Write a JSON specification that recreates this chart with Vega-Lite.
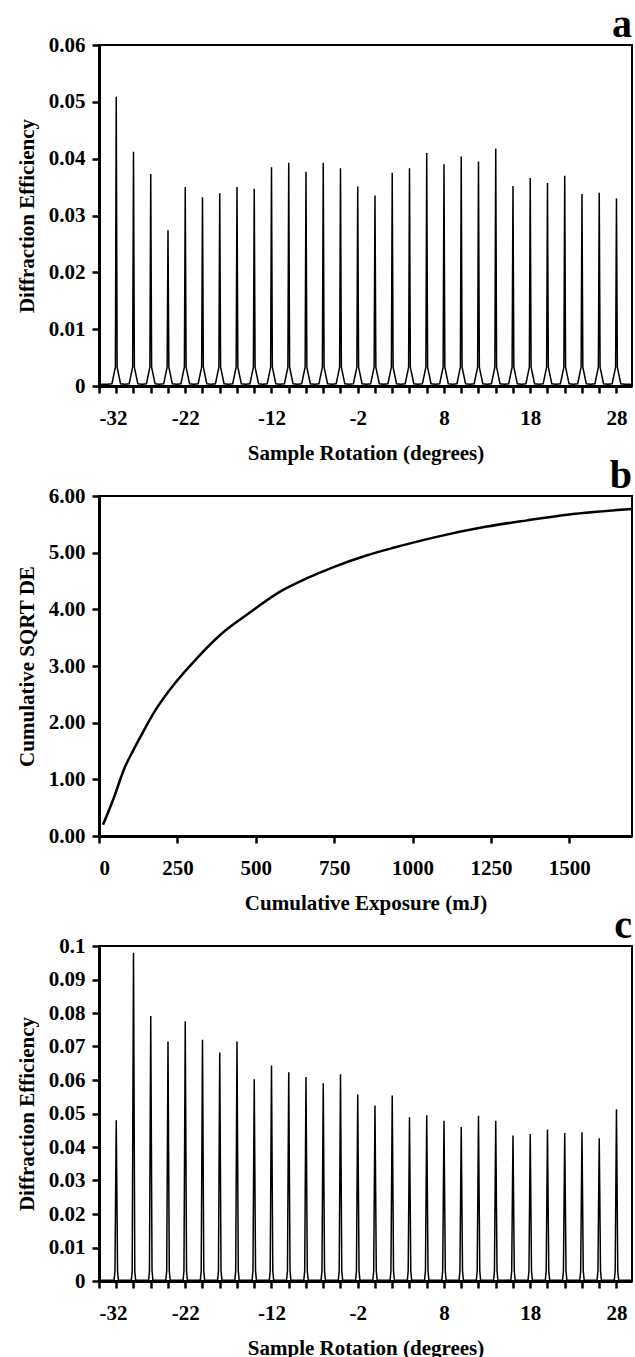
{
"$schema": "https://vega.github.io/schema/vega-lite/v6.json",
"background": "white",
"padding": {"left": 15, "top": 4, "right": 0, "bottom": 0},
"bounds": "flush",
"spacing": 110,
"config": {
  "font": "Liberation Serif",
  "view": {"stroke": "black", "strokeWidth": 2},
  "axis": {"domainColor": "black", "domainWidth": 3, "tickColor": "black", "tickWidth": 2.5, "tickSize": 7,
           "labelFont": "Liberation Serif", "labelFontSize": 21, "labelFontWeight": "bold", "labelColor": "black",
           "titleFont": "Liberation Serif", "titleFontSize": 21, "titleFontWeight": "bold", "titleColor": "black",
           "grid": false, "labelOverlap": false},
  "axisX": {"labelPadding": 14, "titlePadding": 14},
  "axisY": {"labelPadding": 7, "titlePadding": 11},
  "title": {"font": "Liberation Serif", "fontSize": 40, "fontWeight": "bold", "color": "black", "anchor": "end", "baseline": "alphabetic", "offset": -11, "frame": "group"}
},
"datasets": {
"a": [
{"rot":-32,"de":0.0003},{"rot":-31,"de":0.0003},
{"rot":-30.5,"de":0.0004},{"rot":-30.1,"de":0.0033},{"rot":-30,"de":0.0509},{"rot":-29.9,"de":0.0033},{"rot":-29.5,"de":0.0004},{"rot":-29,"de":0.0003},
{"rot":-28.5,"de":0.0004},{"rot":-28.1,"de":0.0033},{"rot":-28,"de":0.0412},{"rot":-27.9,"de":0.0033},{"rot":-27.5,"de":0.0004},{"rot":-27,"de":0.0003},
{"rot":-26.5,"de":0.0004},{"rot":-26.1,"de":0.0033},{"rot":-26,"de":0.0373},{"rot":-25.9,"de":0.0033},{"rot":-25.5,"de":0.0004},{"rot":-25,"de":0.0003},
{"rot":-24.5,"de":0.0004},{"rot":-24.1,"de":0.0033},{"rot":-24,"de":0.0274},{"rot":-23.9,"de":0.0033},{"rot":-23.5,"de":0.0004},{"rot":-23,"de":0.0003},
{"rot":-22.5,"de":0.0004},{"rot":-22.1,"de":0.0033},{"rot":-22,"de":0.0350},{"rot":-21.9,"de":0.0033},{"rot":-21.5,"de":0.0004},{"rot":-21,"de":0.0003},
{"rot":-20.5,"de":0.0004},{"rot":-20.1,"de":0.0033},{"rot":-20,"de":0.0332},{"rot":-19.9,"de":0.0033},{"rot":-19.5,"de":0.0004},{"rot":-19,"de":0.0003},
{"rot":-18.5,"de":0.0004},{"rot":-18.1,"de":0.0033},{"rot":-18,"de":0.0339},{"rot":-17.9,"de":0.0033},{"rot":-17.5,"de":0.0004},{"rot":-17,"de":0.0003},
{"rot":-16.5,"de":0.0004},{"rot":-16.1,"de":0.0033},{"rot":-16,"de":0.0350},{"rot":-15.9,"de":0.0033},{"rot":-15.5,"de":0.0004},{"rot":-15,"de":0.0003},
{"rot":-14.5,"de":0.0004},{"rot":-14.1,"de":0.0033},{"rot":-14,"de":0.0347},{"rot":-13.9,"de":0.0033},{"rot":-13.5,"de":0.0004},{"rot":-13,"de":0.0003},
{"rot":-12.5,"de":0.0004},{"rot":-12.1,"de":0.0033},{"rot":-12,"de":0.0385},{"rot":-11.9,"de":0.0033},{"rot":-11.5,"de":0.0004},{"rot":-11,"de":0.0003},
{"rot":-10.5,"de":0.0004},{"rot":-10.1,"de":0.0033},{"rot":-10,"de":0.0393},{"rot":-9.9,"de":0.0033},{"rot":-9.5,"de":0.0004},{"rot":-9,"de":0.0003},
{"rot":-8.5,"de":0.0004},{"rot":-8.1,"de":0.0033},{"rot":-8,"de":0.0377},{"rot":-7.9,"de":0.0033},{"rot":-7.5,"de":0.0004},{"rot":-7,"de":0.0003},
{"rot":-6.5,"de":0.0004},{"rot":-6.1,"de":0.0033},{"rot":-6,"de":0.0393},{"rot":-5.9,"de":0.0033},{"rot":-5.5,"de":0.0004},{"rot":-5,"de":0.0003},
{"rot":-4.5,"de":0.0004},{"rot":-4.1,"de":0.0033},{"rot":-4,"de":0.0383},{"rot":-3.9,"de":0.0033},{"rot":-3.5,"de":0.0004},{"rot":-3,"de":0.0003},
{"rot":-2.5,"de":0.0004},{"rot":-2.1,"de":0.0033},{"rot":-2,"de":0.0351},{"rot":-1.9,"de":0.0033},{"rot":-1.5,"de":0.0004},{"rot":-1,"de":0.0003},
{"rot":-0.5,"de":0.0004},{"rot":-0.1,"de":0.0033},{"rot":0,"de":0.0335},{"rot":0.1,"de":0.0033},{"rot":0.5,"de":0.0004},{"rot":1,"de":0.0003},
{"rot":1.5,"de":0.0004},{"rot":1.9,"de":0.0033},{"rot":2,"de":0.0375},{"rot":2.1,"de":0.0033},{"rot":2.5,"de":0.0004},{"rot":3,"de":0.0003},
{"rot":3.5,"de":0.0004},{"rot":3.9,"de":0.0033},{"rot":4,"de":0.0383},{"rot":4.1,"de":0.0033},{"rot":4.5,"de":0.0004},{"rot":5,"de":0.0003},
{"rot":5.5,"de":0.0004},{"rot":5.9,"de":0.0033},{"rot":6,"de":0.0410},{"rot":6.1,"de":0.0033},{"rot":6.5,"de":0.0004},{"rot":7,"de":0.0003},
{"rot":7.5,"de":0.0004},{"rot":7.9,"de":0.0033},{"rot":8,"de":0.0390},{"rot":8.1,"de":0.0033},{"rot":8.5,"de":0.0004},{"rot":9,"de":0.0003},
{"rot":9.5,"de":0.0004},{"rot":9.9,"de":0.0033},{"rot":10,"de":0.0404},{"rot":10.1,"de":0.0033},{"rot":10.5,"de":0.0004},{"rot":11,"de":0.0003},
{"rot":11.5,"de":0.0004},{"rot":11.9,"de":0.0033},{"rot":12,"de":0.0395},{"rot":12.1,"de":0.0033},{"rot":12.5,"de":0.0004},{"rot":13,"de":0.0003},
{"rot":13.5,"de":0.0004},{"rot":13.9,"de":0.0033},{"rot":14,"de":0.0418},{"rot":14.1,"de":0.0033},{"rot":14.5,"de":0.0004},{"rot":15,"de":0.0003},
{"rot":15.5,"de":0.0004},{"rot":15.9,"de":0.0033},{"rot":16,"de":0.0352},{"rot":16.1,"de":0.0033},{"rot":16.5,"de":0.0004},{"rot":17,"de":0.0003},
{"rot":17.5,"de":0.0004},{"rot":17.9,"de":0.0033},{"rot":18,"de":0.0366},{"rot":18.1,"de":0.0033},{"rot":18.5,"de":0.0004},{"rot":19,"de":0.0003},
{"rot":19.5,"de":0.0004},{"rot":19.9,"de":0.0033},{"rot":20,"de":0.0357},{"rot":20.1,"de":0.0033},{"rot":20.5,"de":0.0004},{"rot":21,"de":0.0003},
{"rot":21.5,"de":0.0004},{"rot":21.9,"de":0.0033},{"rot":22,"de":0.0370},{"rot":22.1,"de":0.0033},{"rot":22.5,"de":0.0004},{"rot":23,"de":0.0003},
{"rot":23.5,"de":0.0004},{"rot":23.9,"de":0.0033},{"rot":24,"de":0.0338},{"rot":24.1,"de":0.0033},{"rot":24.5,"de":0.0004},{"rot":25,"de":0.0003},
{"rot":25.5,"de":0.0004},{"rot":25.9,"de":0.0033},{"rot":26,"de":0.0340},{"rot":26.1,"de":0.0033},{"rot":26.5,"de":0.0004},{"rot":27,"de":0.0003},
{"rot":27.5,"de":0.0004},{"rot":27.9,"de":0.0033},{"rot":28,"de":0.0330},{"rot":28.1,"de":0.0033},{"rot":28.5,"de":0.0004},{"rot":29,"de":0.0003},
{"rot":29.8,"de":0.0003}
],
"b": [
{"exposure":13,"sqrtde":0.20},{"exposure":45,"sqrtde":0.64},{"exposure":83,"sqrtde":1.22},{"exposure":110,"sqrtde":1.52},{"exposure":135,"sqrtde":1.78},
{"exposure":180,"sqrtde":2.22},{"exposure":237,"sqrtde":2.66},{"exposure":301,"sqrtde":3.07},{"exposure":391,"sqrtde":3.57},
{"exposure":468,"sqrtde":3.89},{"exposure":583,"sqrtde":4.33},{"exposure":660,"sqrtde":4.54},{"exposure":750,"sqrtde":4.75},
{"exposure":853,"sqrtde":4.95},{"exposure":942,"sqrtde":5.09},{"exposure":1070,"sqrtde":5.27},{"exposure":1237,"sqrtde":5.46},
{"exposure":1365,"sqrtde":5.57},{"exposure":1494,"sqrtde":5.67},{"exposure":1699,"sqrtde":5.77}
],
"c": [
{"rot":-32,"de":0.0002},{"rot":-31,"de":0.0002},
{"rot":-30.25,"de":0.0003},{"rot":-30.15,"de":0.003},{"rot":-30,"de":0.048},{"rot":-29.85,"de":0.003},{"rot":-29.75,"de":0.0003},{"rot":-29,"de":0.0002},
{"rot":-28.25,"de":0.0003},{"rot":-28.15,"de":0.003},{"rot":-28,"de":0.098},{"rot":-27.85,"de":0.003},{"rot":-27.75,"de":0.0003},{"rot":-27,"de":0.0002},
{"rot":-26.25,"de":0.0003},{"rot":-26.15,"de":0.003},{"rot":-26,"de":0.0791},{"rot":-25.85,"de":0.003},{"rot":-25.75,"de":0.0003},{"rot":-25,"de":0.0002},
{"rot":-24.25,"de":0.0003},{"rot":-24.15,"de":0.003},{"rot":-24,"de":0.0715},{"rot":-23.85,"de":0.003},{"rot":-23.75,"de":0.0003},{"rot":-23,"de":0.0002},
{"rot":-22.25,"de":0.0003},{"rot":-22.15,"de":0.003},{"rot":-22,"de":0.0775},{"rot":-21.85,"de":0.003},{"rot":-21.75,"de":0.0003},{"rot":-21,"de":0.0002},
{"rot":-20.25,"de":0.0003},{"rot":-20.15,"de":0.003},{"rot":-20,"de":0.0720},{"rot":-19.85,"de":0.003},{"rot":-19.75,"de":0.0003},{"rot":-19,"de":0.0002},
{"rot":-18.25,"de":0.0003},{"rot":-18.15,"de":0.003},{"rot":-18,"de":0.0682},{"rot":-17.85,"de":0.003},{"rot":-17.75,"de":0.0003},{"rot":-17,"de":0.0002},
{"rot":-16.25,"de":0.0003},{"rot":-16.15,"de":0.003},{"rot":-16,"de":0.0715},{"rot":-15.85,"de":0.003},{"rot":-15.75,"de":0.0003},{"rot":-15,"de":0.0002},
{"rot":-14.25,"de":0.0003},{"rot":-14.15,"de":0.003},{"rot":-14,"de":0.0602},{"rot":-13.85,"de":0.003},{"rot":-13.75,"de":0.0003},{"rot":-13,"de":0.0002},
{"rot":-12.25,"de":0.0003},{"rot":-12.15,"de":0.003},{"rot":-12,"de":0.0643},{"rot":-11.85,"de":0.003},{"rot":-11.75,"de":0.0003},{"rot":-11,"de":0.0002},
{"rot":-10.25,"de":0.0003},{"rot":-10.15,"de":0.003},{"rot":-10,"de":0.0623},{"rot":-9.85,"de":0.003},{"rot":-9.75,"de":0.0003},{"rot":-9,"de":0.0002},
{"rot":-8.25,"de":0.0003},{"rot":-8.15,"de":0.003},{"rot":-8,"de":0.0609},{"rot":-7.85,"de":0.003},{"rot":-7.75,"de":0.0003},{"rot":-7,"de":0.0002},
{"rot":-6.25,"de":0.0003},{"rot":-6.15,"de":0.003},{"rot":-6,"de":0.0590},{"rot":-5.85,"de":0.003},{"rot":-5.75,"de":0.0003},{"rot":-5,"de":0.0002},
{"rot":-4.25,"de":0.0003},{"rot":-4.15,"de":0.003},{"rot":-4,"de":0.0617},{"rot":-3.85,"de":0.003},{"rot":-3.75,"de":0.0003},{"rot":-3,"de":0.0002},
{"rot":-2.25,"de":0.0003},{"rot":-2.15,"de":0.003},{"rot":-2,"de":0.0557},{"rot":-1.85,"de":0.003},{"rot":-1.75,"de":0.0003},{"rot":-1,"de":0.0002},
{"rot":-0.25,"de":0.0003},{"rot":-0.15,"de":0.003},{"rot":0,"de":0.0524},{"rot":0.15,"de":0.003},{"rot":0.25,"de":0.0003},{"rot":1,"de":0.0002},
{"rot":1.75,"de":0.0003},{"rot":1.85,"de":0.003},{"rot":2,"de":0.0554},{"rot":2.15,"de":0.003},{"rot":2.25,"de":0.0003},{"rot":3,"de":0.0002},
{"rot":3.75,"de":0.0003},{"rot":3.85,"de":0.003},{"rot":4,"de":0.0489},{"rot":4.15,"de":0.003},{"rot":4.25,"de":0.0003},{"rot":5,"de":0.0002},
{"rot":5.75,"de":0.0003},{"rot":5.85,"de":0.003},{"rot":6,"de":0.0495},{"rot":6.15,"de":0.003},{"rot":6.25,"de":0.0003},{"rot":7,"de":0.0002},
{"rot":7.75,"de":0.0003},{"rot":7.85,"de":0.003},{"rot":8,"de":0.0478},{"rot":8.15,"de":0.003},{"rot":8.25,"de":0.0003},{"rot":9,"de":0.0002},
{"rot":9.75,"de":0.0003},{"rot":9.85,"de":0.003},{"rot":10,"de":0.0460},{"rot":10.15,"de":0.003},{"rot":10.25,"de":0.0003},{"rot":11,"de":0.0002},
{"rot":11.75,"de":0.0003},{"rot":11.85,"de":0.003},{"rot":12,"de":0.0493},{"rot":12.15,"de":0.003},{"rot":12.25,"de":0.0003},{"rot":13,"de":0.0002},
{"rot":13.75,"de":0.0003},{"rot":13.85,"de":0.003},{"rot":14,"de":0.0478},{"rot":14.15,"de":0.003},{"rot":14.25,"de":0.0003},{"rot":15,"de":0.0002},
{"rot":15.75,"de":0.0003},{"rot":15.85,"de":0.003},{"rot":16,"de":0.0434},{"rot":16.15,"de":0.003},{"rot":16.25,"de":0.0003},{"rot":17,"de":0.0002},
{"rot":17.75,"de":0.0003},{"rot":17.85,"de":0.003},{"rot":18,"de":0.0439},{"rot":18.15,"de":0.003},{"rot":18.25,"de":0.0003},{"rot":19,"de":0.0002},
{"rot":19.75,"de":0.0003},{"rot":19.85,"de":0.003},{"rot":20,"de":0.0452},{"rot":20.15,"de":0.003},{"rot":20.25,"de":0.0003},{"rot":21,"de":0.0002},
{"rot":21.75,"de":0.0003},{"rot":21.85,"de":0.003},{"rot":22,"de":0.0442},{"rot":22.15,"de":0.003},{"rot":22.25,"de":0.0003},{"rot":23,"de":0.0002},
{"rot":23.75,"de":0.0003},{"rot":23.85,"de":0.003},{"rot":24,"de":0.0444},{"rot":24.15,"de":0.003},{"rot":24.25,"de":0.0003},{"rot":25,"de":0.0002},
{"rot":25.75,"de":0.0003},{"rot":25.85,"de":0.003},{"rot":26,"de":0.0426},{"rot":26.15,"de":0.003},{"rot":26.25,"de":0.0003},{"rot":27,"de":0.0002},
{"rot":27.75,"de":0.0003},{"rot":27.85,"de":0.003},{"rot":28,"de":0.0513},{"rot":28.15,"de":0.003},{"rot":28.25,"de":0.0003},{"rot":29,"de":0.0002},
{"rot":29.8,"de":0.0002}
]
},
"vconcat": [
{
  "width": 533, "height": 341,
  "title": {"text": "a"},
  "data": {"name": "a"},
  "mark": {"type": "line", "color": "black", "strokeWidth": 1.5, "clip": true},
  "encoding": {
    "x": {"field": "rot", "type": "quantitative",
          "scale": {"domain": [-32, 29.8], "nice": false, "zero": false},
          "axis": {"title": "Sample Rotation (degrees)",
                   "values": [-32,-30,-28,-26,-24,-22,-20,-18,-16,-14,-12,-10,-8,-6,-4,-2,0,2,4,6,8,10,12,14,16,18,20,22,24,26,28],
                   "labelExpr": "(datum.value + 32) % 10 == 0 ? '' + datum.value : ''"}},
    "y": {"field": "de", "type": "quantitative",
          "scale": {"domain": [0, 0.06], "nice": false},
          "axis": {"title": "Diffraction Efficiency", "values": [0,0.01,0.02,0.03,0.04,0.05,0.06], "format": ".2~f"}}
  }
},
{
  "width": 533, "height": 340,
  "title": {"text": "b"},
  "data": {"name": "b"},
  "mark": {"type": "line", "color": "black", "strokeWidth": 2.5, "interpolate": "monotone"},
  "encoding": {
    "x": {"field": "exposure", "type": "quantitative",
          "scale": {"domain": [0, 1700], "nice": false},
          "axis": {"title": "Cumulative Exposure (mJ)", "values": [0,250,500,750,1000,1250,1500], "format": "d"}},
    "y": {"field": "sqrtde", "type": "quantitative",
          "scale": {"domain": [0, 6], "nice": false},
          "axis": {"title": "Cumulative SQRT DE", "values": [0,1,2,3,4,5,6], "format": ".2f"}}
  }
},
{
  "width": 533, "height": 335,
  "title": {"text": "c"},
  "data": {"name": "c"},
  "mark": {"type": "line", "color": "black", "strokeWidth": 1.5, "clip": true},
  "encoding": {
    "x": {"field": "rot", "type": "quantitative",
          "scale": {"domain": [-32, 29.8], "nice": false, "zero": false},
          "axis": {"title": "Sample Rotation (degrees)",
                   "values": [-32,-30,-28,-26,-24,-22,-20,-18,-16,-14,-12,-10,-8,-6,-4,-2,0,2,4,6,8,10,12,14,16,18,20,22,24,26,28],
                   "labelExpr": "(datum.value + 32) % 10 == 0 ? '' + datum.value : ''"}},
    "y": {"field": "de", "type": "quantitative",
          "scale": {"domain": [0, 0.1], "nice": false},
          "axis": {"title": "Diffraction Efficiency", "values": [0,0.01,0.02,0.03,0.04,0.05,0.06,0.07,0.08,0.09,0.1], "format": ".2~f"}}
  }
}
]
}
